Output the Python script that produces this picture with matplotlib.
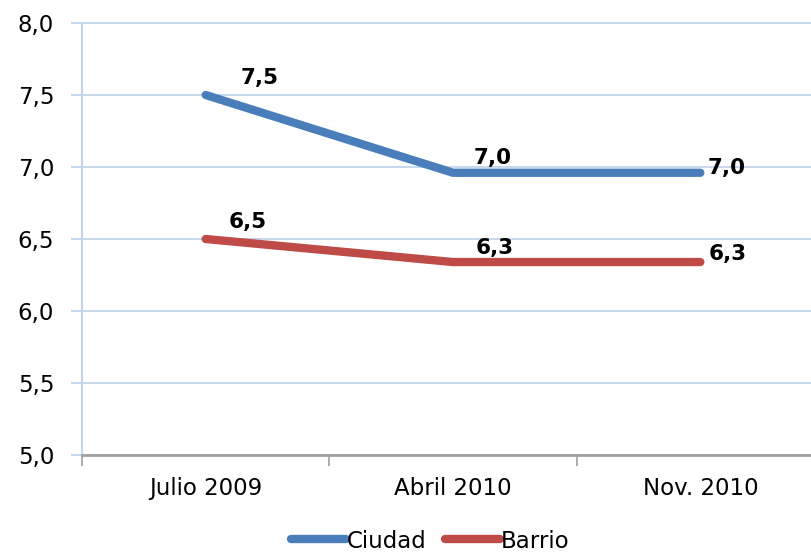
import matplotlib
matplotlib.use("Agg")
import matplotlib.pyplot as plt
from matplotlib.ticker import FixedLocator, FuncFormatter

categories = ["Julio 2009", "Abril 2010", "Nov. 2010"]
ciudad = [7.5, 6.96, 6.96]
barrio = [6.5, 6.34, 6.34]
ciudad_labels = ["7,5", "7,0", "7,0"]
barrio_labels = ["6,5", "6,3", "6,3"]
yticks = [5.0, 5.5, 6.0, 6.5, 7.0, 7.5, 8.0]

blue = "#4A7EBB"
red = "#BE4B48"
grid_c = "#C3D6EE"

plt.rcParams['font.family'] = ['DejaVu Sans']

fig = plt.figure(figsize=(8.11, 5.52), dpi=100)
left = 82 / 811
bottom = (552 - 455) / 552
top = (552 - 23) / 552
ax = fig.add_axes([left, bottom, 1 - left, top - bottom])

x = list(range(len(categories)))
ax.plot(x, ciudad, color=blue, lw=6, solid_capstyle='round', solid_joinstyle='round', label="Ciudad", zorder=3)
ax.plot(x, barrio, color=red, lw=6, solid_capstyle='round', solid_joinstyle='round', label="Barrio", zorder=3)

px = 0.72  # points per pixel at dpi 100
c_off = [(35, 7, 'bottom'), (21, 5, 'bottom'), (7, 5, 'center')]
b_off = [(23, 7, 'bottom'), (23, 4, 'bottom'), (8, 8, 'center')]
for i in x:
    dx, dy, va = c_off[i]
    ax.annotate(ciudad_labels[i], (x[i], ciudad[i]), xytext=(dx * px, dy * px), textcoords='offset points',
                ha='left', va=va, fontsize=15.5, fontweight='bold', color='black', zorder=4)
    dx, dy, va = b_off[i]
    ax.annotate(barrio_labels[i], (x[i], barrio[i]), xytext=(dx * px, dy * px), textcoords='offset points',
                ha='left', va=va, fontsize=15.5, fontweight='bold', color='black', zorder=4)

ax.yaxis.set_major_locator(FixedLocator(yticks))
ax.yaxis.set_major_formatter(FuncFormatter(lambda v, p: f"{v:.1f}".replace('.', ',')))
ax.set_xticks(x)
ax.set_xticklabels(categories)
ax.set_xticks([-0.5, 0.5, 1.5, 2.5], minor=True)
ax.set_ylim(5.0, 8.0)
ax.set_xlim(-0.5, 2.5 - 13 / 247.5)
ax.tick_params(axis='x', which='major', length=0, labelsize=16.5, pad=16)
ax.tick_params(axis='x', which='minor', length=8, color='#A0A0A0', width=1.2)
ax.tick_params(axis='y', length=8, color=grid_c, width=1.3, labelsize=16.5, pad=12)

ax.grid(axis='y', color=grid_c, lw=1.3)
for gl in ax.get_ygridlines():
    gl.set_clip_on(False)
ax.set_axisbelow(True)
for s in ['top', 'right']:
    ax.spines[s].set_visible(False)
ax.spines['left'].set_color(grid_c)
ax.spines['left'].set_linewidth(1.5)
ax.spines['bottom'].set_color('#A0A0A0')
ax.spines['bottom'].set_linewidth(2)

leg = fig.legend(loc='center', bbox_to_anchor=(430 / 811, 1 - 541 / 552), ncol=2, frameon=False,
                 fontsize=16.5, handlelength=2.4, handletextpad=0.05, columnspacing=0.8)

fig.savefig("out.png", dpi=100)
